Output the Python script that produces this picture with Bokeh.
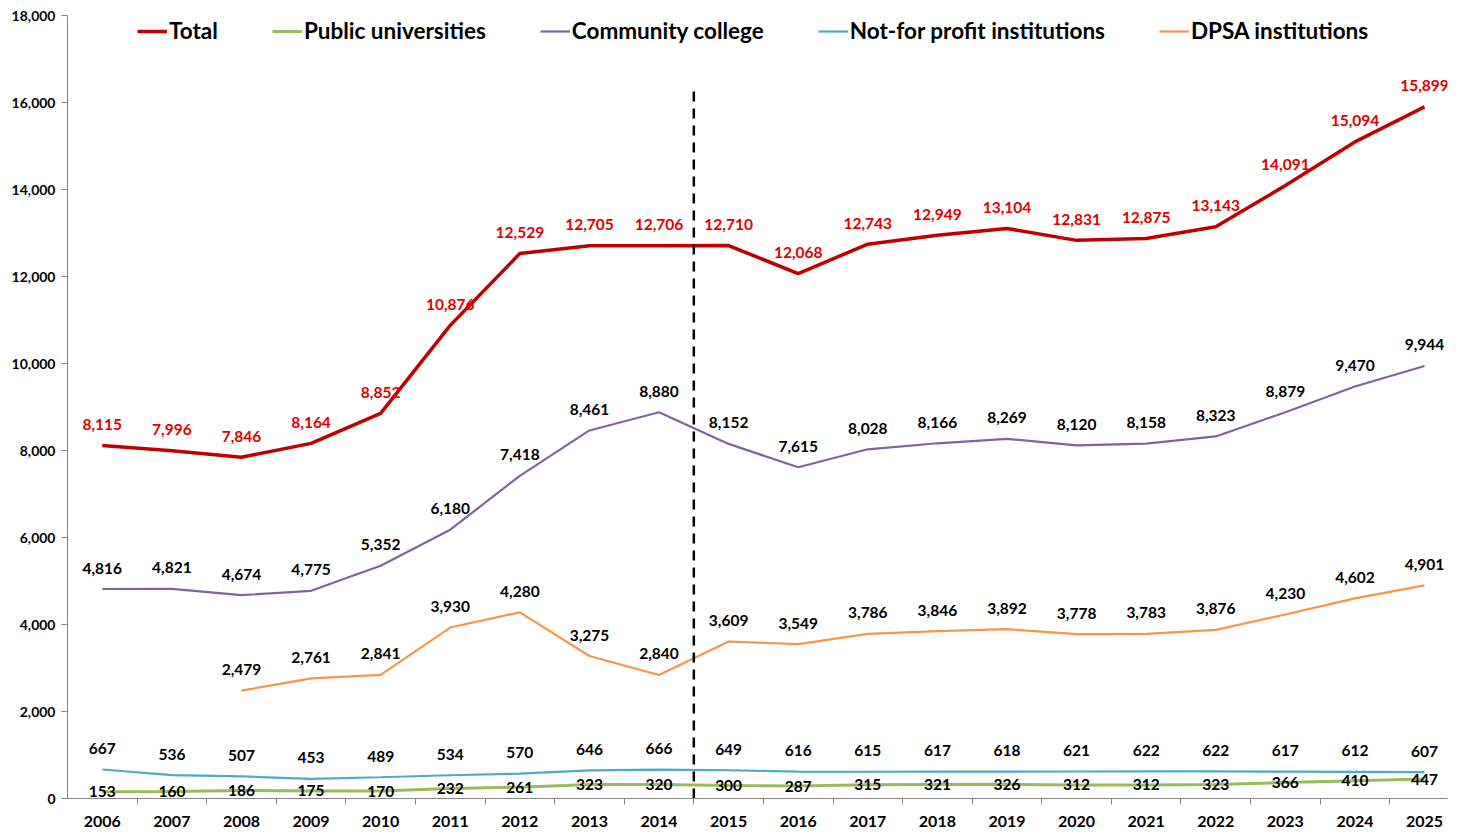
from bokeh.plotting import figure
from bokeh.models import ColumnDataSource, FixedTicker, Legend, LegendItem, NumeralTickFormatter
from bokeh.core.properties import value
from bokeh.embed import file_html
from bokeh.resources import INLINE

years = [str(y) for y in range(2006, 2026)]
total = [8115, 7996, 7846, 8164, 8852, 10876, 12529, 12705, 12706, 12710, 12068, 12743, 12949, 13104, 12831, 12875, 13143, 14091, 15094, 15899]
public = [153, 160, 186, 175, 170, 232, 261, 323, 320, 300, 287, 315, 321, 326, 312, 312, 323, 366, 410, 447]
community = [4816, 4821, 4674, 4775, 5352, 6180, 7418, 8461, 8880, 8152, 7615, 8028, 8166, 8269, 8120, 8158, 8323, 8879, 9470, 9944]
nonprofit = [667, 536, 507, 453, 489, 534, 570, 646, 666, 649, 616, 615, 617, 618, 621, 622, 622, 617, 612, 607]
dpsa = [None, None, 2479, 2761, 2841, 3930, 4280, 3275, 2840, 3609, 3549, 3786, 3846, 3892, 3778, 3783, 3876, 4230, 4602, 4901]
y_ticks = list(range(0, 18001, 2000))
divider_after = "2014"
divider_top = 16300

FONT = "Lato"
xs = list(range(len(years)))

p = figure(width=1453, height=830, output_backend="svg", toolbar_location=None,
           x_range=(-0.5, len(years) - 0.67), y_range=(0, 18000),
           min_border_left=67, min_border_right=6, min_border_top=15, min_border_bottom=32)
p.outline_line_color = None
p.xgrid.visible = False
p.ygrid.visible = False

# axes
p.xaxis.ticker = FixedTicker(ticks=xs, minor_ticks=[i + 0.5 for i in range(len(years) - 1)])
p.xaxis.major_label_overrides = {i: y for i, y in enumerate(years)}
p.xaxis.major_tick_line_color = None
p.xaxis.minor_tick_line_color = "#868686"
p.xaxis.minor_tick_out = 6
p.xaxis.minor_tick_in = 0
p.xaxis.axis_line_color = "#868686"
p.xaxis.major_label_text_font = FONT
p.xaxis.major_label_text_font_style = "bold"
p.xaxis.major_label_text_font_size = "16px"
p.xaxis.major_label_text_color = "black"
p.xaxis.major_label_standoff = 11

p.yaxis.ticker = FixedTicker(ticks=y_ticks, minor_ticks=[])
p.yaxis.formatter = NumeralTickFormatter(format="0,0")
p.yaxis.axis_line_color = "#868686"
p.yaxis.major_tick_line_color = "#868686"
p.yaxis.major_tick_out = 6
p.yaxis.major_tick_in = 0
p.yaxis.major_label_text_font = FONT
p.yaxis.major_label_text_font_style = "bold"
p.yaxis.major_label_text_font_size = "14px"
p.yaxis.major_label_text_color = "black"
p.yaxis.major_label_standoff = 6

def fmt(v):
    return "" if v is None else f"{v:,}"

specs = [
    ("Total", total, "#C00000", 3.5, "#E00000", -21),
    ("Public universities", public, "#9BBB59", 3, "black", 0),
    ("Community college", community, "#8064A2", 2.2, "black", -21),
    ("Not-for profit institutions", nonprofit, "#4BACC6", 2.2, "black", -21),
    ("DPSA institutions", dpsa, "#F79646", 2.2, "black", -21),
]

items = []
label_srcs = []
for name, vals, color, w, lc, off in specs:
    ys = [float("nan") if v is None else v for v in vals]
    src = ColumnDataSource(dict(x=xs, y=ys, t=[fmt(v) for v in vals]))
    r = p.line("x", "y", source=src, line_color=color, line_width=w)
    items.append(LegendItem(label=name, renderers=[r]))
    label_srcs.append((src, lc, off))

# dashed divider
div_x = years.index(divider_after) + 0.5
p.segment(x0=[div_x], y0=[0], x1=[div_x], y1=[divider_top], line_color="black", line_width=2.5, line_dash="10 7")

for src, lc, off in label_srcs:
    p.text("x", "y", text="t", source=src, text_color=lc, text_font=value(FONT),
           text_font_style="bold", text_font_size="15.5px", text_align="center",
           text_baseline="middle", y_offset=off)

legend = Legend(items=items, orientation="horizontal", location=(70, 754),
                glyph_width=30, glyph_height=20, label_standoff=2, spacing=54,
                padding=0, margin=0, border_line_color=None, background_fill_alpha=0,
                label_text_font=FONT, label_text_font_style="bold", label_text_font_size="22.5px",
                label_text_color="black")
p.add_layout(legend, "center")

open("out.html", "w").write(file_html(p, INLINE))
